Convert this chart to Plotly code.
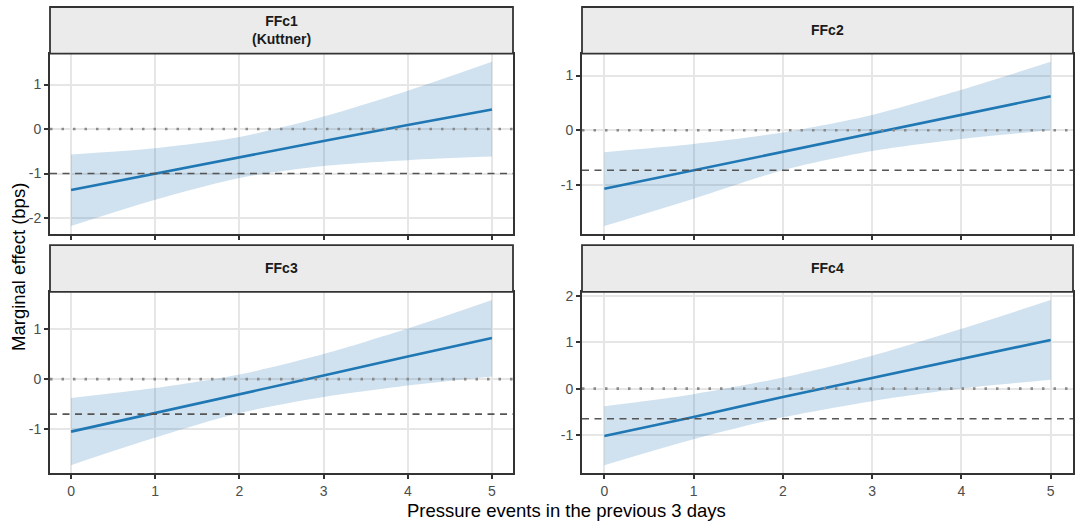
import plotly.graph_objects as go

# ---------------- data ----------------
x_vals = [0, 1, 2, 3, 4, 5]
panel_titles = ["FFc1<br>(Kuttner)", "FFc2", "FFc3", "FFc4"]

ffc1_est = [-1.37, -1.00, -0.64, -0.27, 0.09, 0.44]
ffc1_lo = [-2.18, -1.59, -1.10, -0.83, -0.70, -0.62]
ffc1_hi = [-0.57, -0.43, -0.18, 0.28, 0.86, 1.51]

ffc2_est = [-1.07, -0.73, -0.39, -0.05, 0.29, 0.62]
ffc2_lo = [-1.75, -1.25, -0.73, -0.38, -0.16, 0.00]
ffc2_hi = [-0.40, -0.25, -0.04, 0.28, 0.74, 1.25]

ffc3_est = [-1.05, -0.68, -0.30, 0.07, 0.45, 0.82]
ffc3_lo = [-1.72, -1.17, -0.68, -0.36, -0.13, 0.05]
ffc3_hi = [-0.38, -0.18, 0.09, 0.50, 1.01, 1.58]

ffc4_est = [-1.02, -0.61, -0.18, 0.23, 0.64, 1.05]
ffc4_lo = [-1.65, -1.09, -0.62, -0.27, 0.00, 0.19]
ffc4_hi = [-0.38, -0.12, 0.24, 0.71, 1.29, 1.91]

baseline_effects = [-1.00, -0.73, -0.70, -0.65]   # dashed reference lines
zero_line = 0.0

x_tick_vals = [0, 1, 2, 3, 4, 5]
x_tick_text = ["0", "1", "2", "3", "4", "5"]
y_tick_vals = [[-2, -1, 0, 1], [-1, 0, 1], [-1, 0, 1], [-1, 0, 1, 2]]
y_tick_text = [["-2", "-1", "0", "1"], ["-1", "0", "1"], ["-1", "0", "1"], ["-1", "0", "1", "2"]]
y_title = "Marginal effect (bps)"
x_title = "Pressure events in the previous 3 days"

# ---------------- layout geometry ----------------
W, H = 1076, 525
def px_x(p):
    return p / W
def px_y(p):
    return 1 - p / H

panels = [
    # (x0, x1, top, bottom, strip_top)
    (50, 513, 50, 232, 3),
    (582, 1073, 50, 232, 3),
    (50, 513, 290, 473, 243),
    (582, 1073, 290, 473, 243),
]
series = [
    (ffc1_est, ffc1_lo, ffc1_hi),
    (ffc2_est, ffc2_lo, ffc2_hi),
    (ffc3_est, ffc3_lo, ffc3_hi),
    (ffc4_est, ffc4_lo, ffc4_hi),
]

LINE_COL = "#1F77B4"
RIBBON = "rgba(31,119,180,0.21)"
BORDER = "#333333"
FONT = "Liberation Sans, Arial, sans-serif"
TICKFONT = dict(family=FONT, size=14, color="#4D4D4D")

fig = go.Figure()
shapes = []
annotations = []
layout_axes = {}

for i, ((x0, x1, top, bot, stop), (est, lo, hi)) in enumerate(zip(panels, series)):
    n = i + 1
    xa = "x" if n == 1 else f"x{n}"
    ya = "y" if n == 1 else f"y{n}"
    xkey = "xaxis" if n == 1 else f"xaxis{n}"
    ykey = "yaxis" if n == 1 else f"yaxis{n}"

    # ribbon
    fig.add_trace(go.Scatter(x=x_vals, y=lo, mode="lines", line=dict(width=0, shape="spline", smoothing=0.8),
                             xaxis=xa, yaxis=ya, showlegend=False, hoverinfo="skip"))
    fig.add_trace(go.Scatter(x=x_vals, y=hi, mode="lines", line=dict(width=0, shape="spline", smoothing=0.8),
                             fill="tonexty", fillcolor=RIBBON,
                             xaxis=xa, yaxis=ya, showlegend=False, hoverinfo="skip"))
    # estimate
    fig.add_trace(go.Scatter(x=x_vals, y=est, mode="lines", line=dict(color=LINE_COL, width=2.6),
                             xaxis=xa, yaxis=ya, showlegend=False))

    allv = lo + hi
    ymin, ymax = min(allv), max(allv)
    span = ymax - ymin
    yr = [ymin - 0.05 * span, ymax + 0.05 * span]

    layout_axes[xkey] = dict(
        domain=[px_x(x0), px_x(x1)], anchor=ya, range=[-0.25, 5.25],
        tickvals=x_tick_vals, ticktext=x_tick_text,
        showticklabels=(n >= 3), ticks="outside", ticklen=4, tickwidth=2, tickcolor=BORDER,
        showline=True, mirror=True, linecolor=BORDER, linewidth=1.8,
        showgrid=True, gridcolor="#E6E6E6", gridwidth=1.6, zeroline=False,
        tickfont=TICKFONT,
    )
    layout_axes[ykey] = dict(
        domain=[px_y(bot), px_y(top)], anchor=xa, range=yr,
        tickvals=y_tick_vals[i], ticktext=y_tick_text[i],
        ticks="outside", ticklen=4, tickwidth=2, tickcolor=BORDER,
        showline=True, mirror=True, linecolor=BORDER, linewidth=1.8,
        showgrid=True, gridcolor="#E6E6E6", gridwidth=1.6, zeroline=False,
        tickfont=TICKFONT,
    )

    # reference lines
    shapes.append(dict(type="line", xref=f"{xa} domain", yref=ya, x0=0, x1=1,
                       y0=zero_line, y1=zero_line, line=dict(color="#8A8A8A", width=2.6, dash="2.5px,9px"),
                       layer="above"))
    shapes.append(dict(type="line", xref=f"{xa} domain", yref=ya, x0=0, x1=1,
                       y0=baseline_effects[i], y1=baseline_effects[i],
                       line=dict(color="#555555", width=1.6, dash="7px,5.5px"), layer="above"))

    # strip
    shapes.append(dict(type="rect", xref="paper", yref="paper",
                       x0=px_x(x0), x1=px_x(x1), y0=px_y(top), y1=px_y(stop),
                       fillcolor="#EBEBEB", line=dict(color=BORDER, width=1.8)))
    annotations.append(dict(xref="paper", yref="paper", x=(px_x(x0) + px_x(x1)) / 2,
                            y=(px_y(top) + px_y(stop)) / 2, text=f"<b>{panel_titles[i]}</b>",
                            showarrow=False, xanchor="center", yanchor="middle",
                            font=dict(family=FONT, size=14, color="#1A1A1A")))

annotations.append(dict(xref="paper", yref="paper", x=px_x(566), y=px_y(510), text=x_title,
                        showarrow=False, xanchor="center", yanchor="middle",
                        font=dict(family=FONT, size=18.5, color="#000000")))
annotations.append(dict(xref="paper", yref="paper", x=px_x(19), y=px_y(265), text=y_title,
                        showarrow=False, xanchor="center", yanchor="middle", textangle=-90,
                        font=dict(family=FONT, size=18.5, color="#000000")))

fig.update_layout(
    width=W, height=H, margin=dict(l=0, r=0, t=0, b=0),
    paper_bgcolor="white", plot_bgcolor="white",
    shapes=shapes, annotations=annotations, showlegend=False,
    **layout_axes,
)

fig.write_html("out.html")
